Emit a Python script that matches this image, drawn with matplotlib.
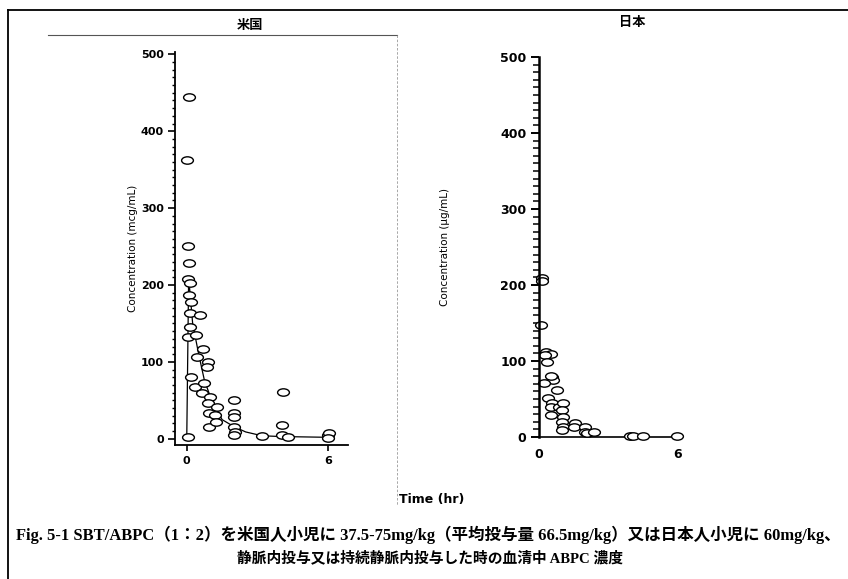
import numpy as np
import matplotlib
matplotlib.use('Agg')
import matplotlib.pyplot as plt
from matplotlib.path import Path
from matplotlib.lines import Line2D
from matplotlib.ticker import MultipleLocator

plt.rcParams['font.family'] = ['DejaVu Sans', 'Noto Sans CJK JP']

# US children (米国) - observed concentrations
us_time = [0.08, 0.0, 0.05, 0.1, 0.05, 0.12, 0.1, 0.2, 0.12, 0.55, 0.12, 0.05, 0.4,
           0.7, 0.45, 0.9, 0.85, 0.2, 0.35, 0.75, 0.65, 1.0, 0.9, 1.3, 0.95, 1.2,
           0.95, 1.25, 2.0, 2.0, 2.0, 2.0, 2.05, 2.0, 3.2, 4.1, 4.05, 4.05, 4.3,
           6.0, 6.05, 0.05, 6.0]
us_conc = [444, 363, 251, 228, 208, 202, 187, 178, 163, 161, 145, 132, 135,
           117, 107, 100, 94, 81, 68, 72, 60, 55, 46, 42, 33, 31,
           16, 22, 50, 33, 28, 16, 9, 5, 4, 61, 18, 5, 3,
           5, 8, 2, 1]
# US mean curve
us_mean_t = [0, 0.08, 0.25, 0.5, 0.75, 1.0, 1.5, 2.0, 2.5, 3.2, 4.0, 6.0]
us_mean_c = [2, 210, 150, 111, 76, 55, 25, 16, 9, 4, 3, 2]

# Japanese children (日本) - observed concentrations
jp_time = [0.13, 0.15, 0.1, 0.3, 0.5, 0.25, 0.35, 0.55, 0.6, 0.5, 0.2, 0.8,
           0.4, 0.55, 0.5, 0.85, 1.05, 1.0, 0.5, 1.05, 1.0, 1.05, 1.0,
           1.55, 1.5, 2.0, 2.0, 2.1, 2.4, 3.95, 4.1, 4.5, 6.0]
jp_conc = [209, 205, 147, 112, 109, 108, 99, 79, 75, 80, 71, 62,
           51, 45, 40, 39, 45, 36, 29, 26, 20, 13, 9,
           18, 13, 13, 7, 5, 7, 1, 1, 1, 1]
jp_line_t = [0, 6.1]
jp_line_c = [0, 0]

circ = Path.unit_circle()
ell = Path(circ.vertices * np.array([1.6, 1.0]), circ.codes)

fig = plt.figure(figsize=(8.48, 5.79), dpi=100)

W, H = 848, 579
def fx(p):
    return p / W
def fy(p):
    return 1 - p / H

# left panel
ax1 = fig.add_axes([fx(175), fy(445), fx(348) - fx(175), fy(52) - fy(445)])
ax1.plot(us_mean_t, us_mean_c, color='black', lw=0.9)
ax1.plot(us_time, us_conc, linestyle='none', marker=ell, markersize=8.5,
         markerfacecolor='white', markeredgecolor='black', markeredgewidth=1.0,
         clip_on=False)
ax1.set_xlim(-0.5, 6.85)
ax1.set_ylim(-8, 503)
ax1.set_xticks([0, 6])
ax1.set_yticks([0, 100, 200, 300, 400, 500])
ax1.yaxis.set_minor_locator(MultipleLocator(10))
ax1.tick_params(axis='y', which='major', length=5, width=1.2, labelsize=8, pad=3)
ax1.tick_params(axis='y', which='minor', length=2.5, width=1)
ax1.tick_params(axis='x', length=4, width=1.2, labelsize=8, pad=4)
for s in ['top', 'right']:
    ax1.spines[s].set_visible(False)
for s in ['left', 'bottom']:
    ax1.spines[s].set_linewidth(1.3)
ax1.set_ylabel('Concentration (mcg/mL)', fontsize=7.5, labelpad=2)
for lab in ax1.get_yticklabels() + ax1.get_xticklabels():
    lab.set_fontweight('bold')

# right panel
ax2 = fig.add_axes([fx(539), fy(437), fx(684) - fx(539), fy(57) - fy(437)])
ax2.plot(jp_line_t, jp_line_c, color='black', lw=1.2, clip_on=False)
ax2.plot(jp_time, jp_conc, linestyle='none', marker=ell, markersize=8.5,
         markerfacecolor='white', markeredgecolor='black', markeredgewidth=1.0,
         clip_on=False)
ax2.set_xlim(0, 6.3)
ax2.set_ylim(0, 500)
ax2.set_xticks([0, 6])
ax2.set_yticks([0, 100, 200, 300, 400, 500])
ax2.yaxis.set_minor_locator(MultipleLocator(10))
ax2.tick_params(axis='y', which='major', length=6, width=1.4, labelsize=9, pad=3)
ax2.tick_params(axis='y', which='minor', length=4, width=1.1)
ax2.tick_params(axis='x', length=0, labelsize=9, pad=8)
for s in ['top', 'right', 'bottom']:
    ax2.spines[s].set_visible(False)
ax2.spines['left'].set_linewidth(1.8)
ax2.set_ylabel('Concentration (µg/mL)', fontsize=7.5, labelpad=36)
for lab in ax2.get_yticklabels() + ax2.get_xticklabels():
    lab.set_fontweight('bold')

# titles and labels
cjk = ['Noto Sans CJK JP', 'DejaVu Sans']
fig.text(fx(250), fy(25), '米国', ha='center', va='center', fontsize=9.5,
         fontweight='bold', family=cjk)
fig.text(fx(632), fy(22), '日本', ha='center', va='center', fontsize=9.5,
         fontweight='bold', family=cjk)
fig.text(fx(432), fy(500), 'Time (hr)', ha='center', va='center', fontsize=9,
         fontweight='bold')
cap = ['Liberation Serif', 'Noto Sans CJK JP']
fig.text(fx(428), fy(535),
         'Fig. 5-1 SBT/ABPC（1：2）を米国人小児に 37.5-75mg/kg（平均投与量 66.5mg/kg）又は日本人小児に 60mg/kg、',
         ha='center', va='center', fontsize=11.9, fontweight='bold', family=cap)
fig.text(fx(430), fy(558), '静脈内投与又は持続静脈内投与した時の血清中 ABPC 濃度',
         ha='center', va='center', fontsize=10.6, fontweight='bold', family=cap)

# frame lines
fig.add_artist(Line2D([fx(8), fx(8)], [fy(10), fy(579)], color='black', lw=1.3))
fig.add_artist(Line2D([fx(8), fx(848)], [fy(10), fy(10)], color='black', lw=1.3))
fig.add_artist(Line2D([fx(48), fx(397)], [fy(35), fy(35)], color='#555555', lw=0.8))
fig.add_artist(Line2D([fx(397), fx(397)], [fy(35), fy(505)], color='#999999', lw=0.6,
                      linestyle=(0, (3, 2))))

fig.savefig('out.png', dpi=100)
